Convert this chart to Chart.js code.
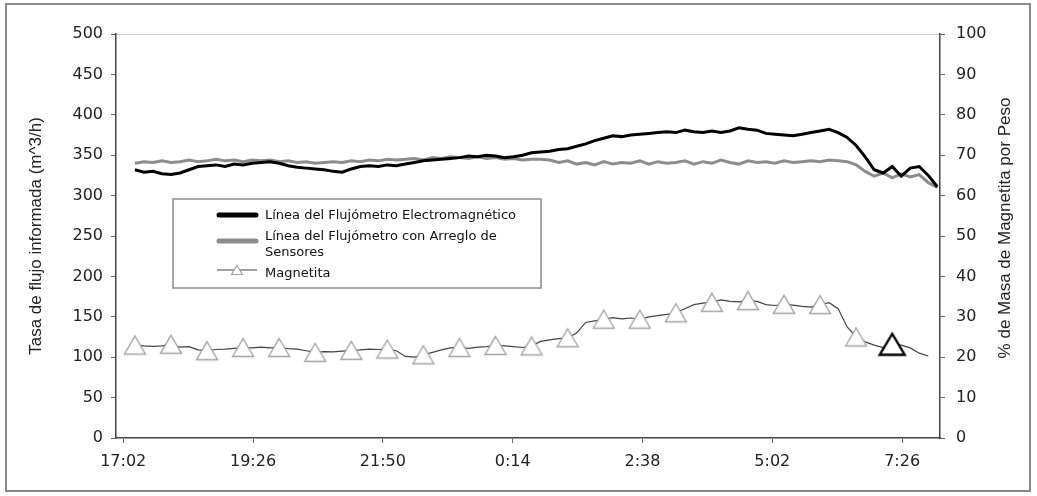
<!DOCTYPE html>
<html lang="es">
<head>
<meta charset="utf-8">
<title>Tasa de flujo y magnetita</title>
<script src="https://cdn.jsdelivr.net/npm/chart.js@4.4.1/dist/chart.umd.min.js"></script>
<style>
    html, body { margin: 0; padding: 0; background: #fff; }
    #wrap { width: 1037px; height: 496px; }
</style>
</head>
<body>
<div id="wrap"><canvas id="flowChart" width="1037" height="496"></canvas></div>
<script>
// Sample times in minutes from midnight of the first day (17:15 -> 8:05 next day)
const sampleTimes = [
    1035, 1045, 1055, 1065, 1075, 1085, 1095, 1105, 1115, 1125,
    1135, 1145, 1155, 1165, 1175, 1185, 1195, 1205, 1215, 1225,
    1235, 1245, 1255, 1265, 1275, 1285, 1295, 1305, 1315, 1325,
    1335, 1345, 1355, 1365, 1375, 1385, 1395, 1405, 1415, 1425,
    1435, 1445, 1455, 1465, 1475, 1485, 1495, 1505, 1515, 1525,
    1535, 1545, 1555, 1565, 1575, 1585, 1595, 1605, 1615, 1625,
    1635, 1645, 1655, 1665, 1675, 1685, 1695, 1705, 1715, 1725,
    1735, 1745, 1755, 1765, 1775, 1785, 1795, 1805, 1815, 1825,
    1835, 1845, 1855, 1865, 1875, 1885, 1895, 1905, 1915, 1925
];

// m^3/h, left axis
const flujoElectromagnetico = [
    332, 329, 330, 327, 326, 328, 332, 336, 337, 338,
    336, 339, 338, 340, 341, 342, 340, 337, 335, 334,
    333, 332, 330, 329, 333, 336, 337, 336, 338, 337,
    339, 341, 343, 344, 345, 346, 347, 349, 348, 350,
    349, 347, 348, 350, 353, 354, 355, 357, 358, 361,
    364, 368, 371, 374, 373, 375, 376, 377, 378, 379,
    378, 381, 379, 378, 380, 378, 380, 384, 382, 381,
    377, 376, 375, 374, 376, 378, 380, 382, 378, 372,
    362, 348, 332, 328, 336, 324, 334, 336, 325, 311
];

const flujoArreglo = [
    340, 342, 341, 343, 341, 342, 344, 342, 343, 345,
    343, 344, 342, 344, 343, 344, 342, 343, 341, 342,
    340, 341, 342, 341, 343, 342, 344, 343, 345, 344,
    345, 346, 344, 347, 346, 348, 347, 346, 348, 346,
    347, 345, 346, 344, 345, 345, 344, 341, 343, 339,
    341, 338, 342, 339, 341, 340, 343, 339, 342, 340,
    341, 343, 339, 342, 340, 344, 341, 339, 343, 341,
    342, 340, 343, 341, 342, 343, 342, 344, 343, 342,
    338, 330, 324, 328, 322, 327, 323, 326, 316, 310
];

// % de masa, right axis
const magnetita = [
    23.0, 22.8, 22.7, 22.8, 23.2, 22.5, 22.6, 21.8, 21.6, 21.9,
    22.0, 22.2, 22.4, 22.3, 22.5, 22.3, 22.4, 22.1, 22.0, 21.6,
    21.2, 21.4, 21.3, 21.5, 21.7, 21.8, 22.0, 21.9, 22.0, 21.6,
    20.2, 20.0, 20.6, 21.2, 21.8, 22.3, 22.4, 22.2, 22.5, 22.6,
    22.9, 22.8, 22.6, 22.4, 22.8, 23.9, 24.3, 24.6, 24.8, 26.0,
    28.6, 29.0, 29.4, 29.8, 29.5, 29.7, 29.4, 30.0, 30.3, 30.6,
    31.0, 32.0, 33.0, 33.4, 33.6, 34.2, 33.8, 33.7, 34.0, 33.8,
    33.0, 32.8, 33.1, 32.9, 32.6, 32.4, 33.0, 33.5, 32.0, 27.5,
    25.0, 23.8, 23.0, 22.4, 23.2, 23.0, 22.3, 21.0, 20.3, null
];

const xTickValues = [1022, 1166, 1310, 1454, 1598, 1742, 1886];
const xTickLabels = ['17:02', '19:26', '21:50', '0:14', '2:38', '5:02', '7:26'];

const seriesNames = [
    'Línea del Flujómetro Electromagnético',
    ['Línea del Flujómetro con Arreglo de', 'Sensores'],
    'Magnetita'
];
const leftTitle = 'Tasa de flujo informada (m^3/h)';
const rightTitle = '% de Masa de Magnetita por Peso';

// plot box in page pixels
const PLOT = { left: 116, right: 940, top: 34, bottom: 438 };
const MARKER_EVERY = 4;
const LAST_MARKER = 84;
const HIGHLIGHT_INDEX = 84;
const TICK_FONT = { family: '"DejaVu Sans", sans-serif', size: 16 };

function toPoints(times, values) {
    return times.map((t, i) => ({ x: t, y: values[i] }));
}

function hasMarker(i) {
    return i % MARKER_EVERY === 0 && i <= LAST_MARKER;
}

// hollow triangle centred on its bounding box (like the spreadsheet marker)
function makeTriangle(w, h, color, lw) {
    const c = document.createElement('canvas');
    c.width = Math.ceil(w + lw * 2 + 2);
    c.height = Math.ceil(h + lw * 2 + 2);
    const g = c.getContext('2d');
    const cx = c.width / 2, cy = c.height / 2;
    g.fillStyle = '#fff';
    g.strokeStyle = color;
    g.lineWidth = lw;
    g.beginPath();
    g.moveTo(cx, cy - h / 2);
    g.lineTo(cx + w / 2, cy + h / 2);
    g.lineTo(cx - w / 2, cy + h / 2);
    g.closePath();
    g.fill();
    g.stroke();
    return c;
}

const grayTriangle = makeTriangle(21, 18, '#a3a3a3', 1.4);
const blackTriangle = makeTriangle(25, 21, '#000', 2.4);
const legendTriangle = makeTriangle(11, 9, '#a3a3a3', 1.2);

// frame, plot top edge, right title and the boxed legend
const decorations = {
    id: 'decorations',
    beforeDraw(chart) {
        const ctx = chart.ctx;
        ctx.save();
        ctx.fillStyle = '#fff';
        ctx.fillRect(0, 0, chart.width, chart.height);
        ctx.strokeStyle = '#8a8a8a';
        ctx.lineWidth = 2;
        ctx.strokeRect(6, 4, 1024, 487);
        ctx.strokeStyle = '#d0d0d0';
        ctx.lineWidth = 1;
        ctx.beginPath();
        ctx.moveTo(PLOT.left, PLOT.top + 0.5);
        ctx.lineTo(PLOT.right, PLOT.top + 0.5);
        ctx.stroke();
        ctx.restore();
    },
    afterDraw(chart) {
        const ctx = chart.ctx;
        ctx.save();

        // right axis title, reads bottom to top
        ctx.translate(1005, 228);
        ctx.rotate(-Math.PI / 2);
        ctx.fillStyle = '#222';
        ctx.font = '17px "Liberation Sans", Arial, sans-serif';
        ctx.textAlign = 'center';
        ctx.textBaseline = 'middle';
        ctx.fillText(rightTitle, 0, 0);
        ctx.restore();

        // legend
        ctx.save();
        ctx.fillStyle = '#fff';
        ctx.fillRect(173, 199, 368, 89);
        ctx.strokeStyle = '#8a8a8a';
        ctx.lineWidth = 1.5;
        ctx.strokeRect(173, 199, 368, 89);

        ctx.lineCap = 'round';
        ctx.lineWidth = 5;
        ctx.strokeStyle = '#000';
        ctx.beginPath(); ctx.moveTo(219, 215); ctx.lineTo(256, 215); ctx.stroke();
        ctx.strokeStyle = '#8c8c8c';
        ctx.beginPath(); ctx.moveTo(219, 241); ctx.lineTo(256, 241); ctx.stroke();

        ctx.lineCap = 'butt';
        ctx.lineWidth = 1.2;
        ctx.strokeStyle = '#444';
        ctx.beginPath(); ctx.moveTo(217, 270); ctx.lineTo(257, 270); ctx.stroke();
        ctx.drawImage(legendTriangle, 237 - legendTriangle.width / 2, 270 - legendTriangle.height / 2);

        ctx.fillStyle = '#111';
        ctx.font = '13px "DejaVu Sans", sans-serif';
        ctx.textAlign = 'left';
        ctx.textBaseline = 'alphabetic';
        ctx.fillText(seriesNames[0], 265, 219);
        ctx.fillText(seriesNames[1][0], 265, 240);
        ctx.fillText(seriesNames[1][1], 265, 256);
        ctx.fillText(seriesNames[2], 265, 277);
        ctx.restore();
    }
};

const ctx = document.getElementById('flowChart').getContext('2d');
new Chart(ctx, {
    type: 'line',
    data: {
        datasets: [{
            label: seriesNames[2],
            data: toPoints(sampleTimes, magnetita),
            yAxisID: 'y1',
            borderColor: '#444',
            borderWidth: 1.2,
            tension: 0,
            pointStyle: c => c.dataIndex === HIGHLIGHT_INDEX ? blackTriangle : grayTriangle,
            pointRadius: c => hasMarker(c.dataIndex) ? 10 : 0
        }, {
            label: seriesNames[0],
            data: toPoints(sampleTimes, flujoElectromagnetico),
            yAxisID: 'y',
            borderColor: '#000',
            borderWidth: 3,
            tension: 0,
            pointRadius: 0
        }, {
            label: seriesNames[1].join(' '),
            data: toPoints(sampleTimes, flujoArreglo),
            yAxisID: 'y',
            borderColor: '#8c8c8c',
            borderWidth: 3,
            tension: 0,
            pointRadius: 0
        }]
    },
    options: {
        responsive: false,
        animation: false,
        events: [],
        layout: { padding: { left: 10, right: 0, top: PLOT.top, bottom: 0 } },
        plugins: {
            legend: { display: false },
            tooltip: { enabled: false }
        },
        scales: {
            x: {
                type: 'linear',
                min: 1014,
                max: 1928,
                afterBuildTicks: s => { s.ticks = xTickValues.map(v => ({ value: v })); },
                afterFit: s => { s.height = 496 - PLOT.bottom; },
                grid: { drawOnChartArea: false, tickLength: 5, color: '#666' },
                border: { color: '#444', width: 1.5 },
                ticks: {
                    autoSkip: false,
                    maxRotation: 0,
                    padding: 9,
                    color: '#222',
                    font: TICK_FONT,
                    callback: (v, i) => xTickLabels[i]
                }
            },
            y: {
                position: 'left',
                min: 0,
                max: 500,
                afterFit: s => { s.width = PLOT.left - 10; },
                grid: { drawOnChartArea: false, tickLength: 5, color: '#666' },
                border: { color: '#444', width: 1.5 },
                ticks: { stepSize: 50, padding: 8, color: '#222', font: TICK_FONT },
                title: {
                    display: true,
                    text: leftTitle,
                    color: '#222',
                    font: { family: '"Liberation Sans", Arial, sans-serif', size: 17 },
                    padding: { top: 16, bottom: 0 }
                }
            },
            y1: {
                position: 'right',
                min: 0,
                max: 100,
                afterFit: s => { s.width = 1037 - PLOT.right; },
                grid: { drawOnChartArea: false, tickLength: 5, color: '#666' },
                border: { color: '#444', width: 1.5 },
                ticks: { stepSize: 10, padding: 11, color: '#222', font: TICK_FONT }
            }
        }
    },
    plugins: [decorations]
});
</script>
</body>
</html>
